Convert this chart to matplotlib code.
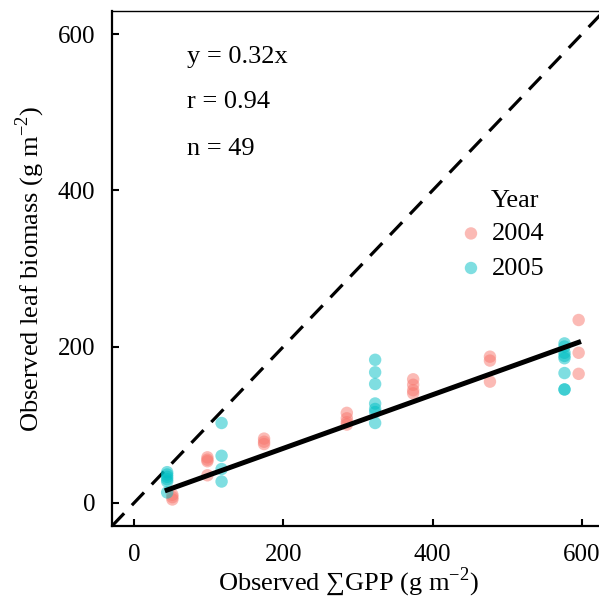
import numpy as np
import matplotlib
matplotlib.use('Agg')
import matplotlib.pyplot as plt

plt.rcParams['font.family'] = ['Liberation Serif', 'DejaVu Serif']
plt.rcParams['mathtext.fontset'] = 'custom'
plt.rcParams['mathtext.rm'] = 'Liberation Serif'

# 2004 observations (salmon)
x_2004 = [51, 51, 51, 98, 98, 98, 174, 174, 174, 285, 285, 285,
          374, 374, 374, 374, 477, 477, 477, 596, 596, 596, 98, 285]
y_2004 = [10, 4, 7, 58, 53, 35, 82, 78, 75, 115, 108, 100,
          158, 151, 144, 140, 187, 182, 155, 234, 192, 165, 55, 103]

# 2005 observations (cyan)
x_2005 = [44, 44, 44, 44, 44, 117, 117, 117, 117, 323, 323, 323, 323, 323, 323, 323,
          577, 577, 577, 577, 577, 577, 577, 44, 577]
y_2005 = [39, 33, 27, 13, 36, 102, 60, 43, 27, 183, 167, 152, 127, 116, 102, 120,
          204, 192, 185, 166, 145, 145, 188, 30, 200]

fit_slope = 0.343
fit_intercept = 1.0

fig = plt.figure(figsize=(5.99, 6.05), dpi=100)
ax = fig.add_axes([112 / 599, 79 / 605, 492 / 599, 515 / 605])

lims = [-30, 630]
ax.plot(lims, lims, 'k--', lw=2.3, dashes=(5.5, 3.5), zorder=1)

ax.scatter(x_2004, y_2004, s=80, color='#F8766D', alpha=0.5, edgecolor='none', label='2004', zorder=2)
ax.scatter(x_2005, y_2005, s=80, color='#00BFC4', alpha=0.5, edgecolor='none', label='2005', zorder=2)

all_x = np.array(x_2004 + x_2005)
xf = np.array([all_x.min(), all_x.max()])
ax.plot(xf, fit_slope * xf + fit_intercept, color='black', lw=3.6, zorder=3)

ax.set_xlim(lims)
ax.set_ylim(lims)
ax.set_xticks([0, 200, 400, 600])
ax.set_yticks([0, 200, 400, 600])
ax.tick_params(direction='in', length=5, width=1.5, labelsize=18)
ax.tick_params(axis='x', pad=13)
ax.tick_params(axis='y', pad=12)
for side in ['left', 'bottom']:
    ax.spines[side].set_linewidth(1.6)
ax.spines['top'].set_linewidth(1.0)
ax.spines['right'].set_linewidth(1.0)

ax.set_xlabel('Observed \u2211GPP (g m$^{-2}$)', fontsize=19, labelpad=0)
ax.xaxis.label.set_x(0.48)
ax.set_ylabel('Observed leaf biomass (g m$^{-2}$)', fontsize=19, labelpad=8)

ax.text(70, 571, 'y = 0.32x', fontsize=19, va='center')
ax.text(70, 513, 'r = 0.94', fontsize=19, va='center')
ax.text(70, 453, 'n = 49', fontsize=19, va='center')

leg = ax.legend(loc='upper left', bbox_to_anchor=(0.676, 0.611), frameon=False,
                fontsize=19, handletextpad=0.2, labelspacing=0.42,
                borderaxespad=0, handlelength=1.2)
ax.text(0.77, 0.609, 'Year', transform=ax.transAxes, fontsize=19, va='bottom')

fig.savefig('out.png', dpi=100)
